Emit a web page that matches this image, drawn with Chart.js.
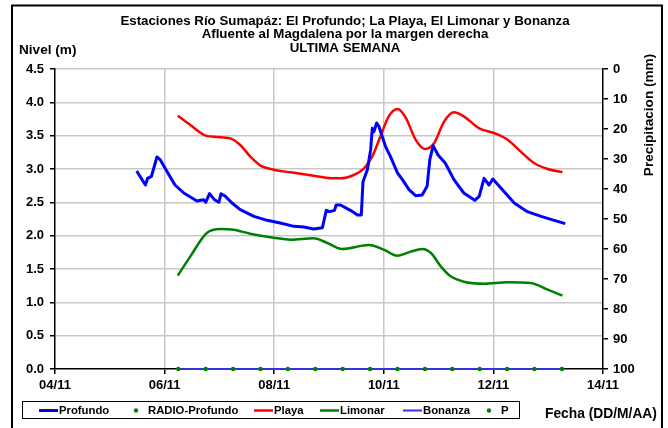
<!DOCTYPE html>
<html>
<head>
<meta charset="utf-8">
<script src="https://cdn.jsdelivr.net/npm/chart.js@4"></script>
<style>
  html, body { margin: 0; padding: 0; background: #fff; }
  #wrap { width: 668px; height: 428px; }
</style>
</head>
<body>
<div id="wrap"><canvas id="chart" width="668" height="428"></canvas></div>
<script>
// time axis in days since 04/11 00:00
const xTickLabels = ['04/11', '06/11', '08/11', '10/11', '12/11', '14/11'];

const profundoDays = [1.49, 1.65, 1.69, 1.76, 1.86, 1.92, 2.06, 2.19, 2.35, 2.59, 2.71, 2.75, 2.82, 2.91, 2.99, 3.03, 3.11, 3.23, 3.38, 3.63, 3.87, 4.11, 4.36, 4.54, 4.72, 4.88, 4.95, 5.01, 5.10, 5.13, 5.21, 5.39, 5.52, 5.59, 5.62, 5.70, 5.76, 5.79, 5.82, 5.87, 5.91, 6.03, 6.12, 6.25, 6.34, 6.46, 6.58, 6.70, 6.79, 6.84, 6.90, 6.99, 7.12, 7.28, 7.46, 7.66, 7.74, 7.83, 7.92, 7.99, 8.14, 8.38, 8.62, 8.87, 9.11, 9.31];
const profundoNivel = [2.97, 2.76, 2.86, 2.89, 3.18, 3.14, 2.94, 2.76, 2.64, 2.52, 2.54, 2.50, 2.63, 2.54, 2.50, 2.63, 2.59, 2.49, 2.39, 2.29, 2.23, 2.19, 2.14, 2.13, 2.10, 2.12, 2.38, 2.36, 2.38, 2.46, 2.46, 2.38, 2.31, 2.31, 2.81, 2.99, 3.29, 3.61, 3.56, 3.69, 3.64, 3.34, 3.19, 2.94, 2.84, 2.69, 2.60, 2.61, 2.74, 3.14, 3.35, 3.21, 3.09, 2.84, 2.64, 2.53, 2.59, 2.86, 2.76, 2.85, 2.71, 2.49, 2.36, 2.29, 2.23, 2.18];

const playaDays = [2.24, 2.47, 2.75, 2.96, 3.20, 3.38, 3.56, 3.75, 3.99, 4.30, 4.72, 5.09, 5.21, 5.45, 5.64, 5.79, 5.94, 6.09, 6.25, 6.40, 6.58, 6.75, 6.92, 7.10, 7.28, 7.46, 7.74, 8.01, 8.26, 8.50, 8.74, 8.99, 9.26];
const playaNivel = [3.80, 3.66, 3.50, 3.48, 3.46, 3.36, 3.19, 3.05, 2.99, 2.95, 2.90, 2.86, 2.86, 2.91, 3.01, 3.19, 3.49, 3.79, 3.90, 3.77, 3.44, 3.30, 3.39, 3.71, 3.85, 3.79, 3.61, 3.54, 3.44, 3.26, 3.09, 3.00, 2.95];

const limonarDays = [2.24, 2.47, 2.77, 3.02, 3.26, 3.56, 3.99, 4.30, 4.72, 4.97, 5.24, 5.73, 6.00, 6.25, 6.49, 6.70, 6.86, 7.04, 7.22, 7.46, 7.83, 8.26, 8.68, 8.99, 9.26];
const limonarNivel = [1.40, 1.69, 2.04, 2.10, 2.09, 2.03, 1.97, 1.94, 1.96, 1.89, 1.80, 1.86, 1.79, 1.70, 1.76, 1.80, 1.74, 1.54, 1.39, 1.31, 1.28, 1.30, 1.29, 1.19, 1.10];

const bonanzaDays = [2.25, 9.25];
const bonanzaNivel = [0, 0];

const radioDays = [2.25, 2.75, 3.25, 3.75, 4.25, 4.75, 5.25, 5.75, 6.25, 6.75, 7.25, 7.75, 8.25, 8.75, 9.25];
const radioNivel = [0, 0, 0, 0, 0, 0, 0, 0, 0, 0, 0, 0, 0, 0, 0];

const titleLines = [
  'Estaciones Río Sumapáz: El Profundo; La Playa, El Limonar y Bonanza',
  'Afluente al Magdalena por la margen derecha',
  'ULTIMA SEMANA'
];

function pts(xs, ys) {
  return xs.map((x, i) => ({ x: x, y: ys[i] }));
}

const FONT = 'Liberation Sans, Arial, sans-serif';

const decor = {
  id: 'decor',
  afterDraw(chart) {
    const c = chart.ctx;
    c.save();
    // outer frame
    c.strokeStyle = '#000';
    c.lineWidth = 2;
    c.strokeRect(12, 5.5, 650, 440);

    c.fillStyle = '#000';
    c.font = 'bold 13.3px ' + FONT;
    c.textAlign = 'center';
    c.textBaseline = 'middle';
    c.fillText(titleLines[0], 345, 21);
    c.fillText(titleLines[1], 345, 34.5);
    c.fillText(titleLines[2], 345, 48.5);

    c.font = 'bold 13.6px ' + FONT;
    c.textAlign = 'left';
    c.fillText('Nivel (m)', 19, 50);

    c.save();
    c.translate(649, 115);
    c.rotate(-Math.PI / 2);
    c.textAlign = 'center';
    c.fillText('Precipitacion (mm)', 0, 0);
    c.restore();

    c.font = 'bold 13.8px ' + FONT;
    c.textAlign = 'left';
    c.fillText('Fecha (DD/M/AA)', 545, 414);

    // legend box
    c.lineWidth = 1;
    c.strokeStyle = '#000';
    c.strokeRect(22.5, 401.5, 497, 17);
    c.font = 'bold 11.3px ' + FONT;
    const items = [
      { ds: 0, x: 39 },
      { ds: 5, x: 136 },
      { ds: 1, x: 254 },
      { ds: 2, x: 320 },
      { ds: 3, x: 403 },
      { ds: 4, x: 489 }
    ];
    const ly = 410.5;
    items.forEach(it => {
      const d = chart.data.datasets[it.ds];
      if (d.showLine === false) {
        c.fillStyle = d.pointBackgroundColor;
        c.beginPath();
        c.arc(it.x, ly, 2.2, 0, Math.PI * 2);
        c.fill();
        c.fillStyle = '#000';
        c.fillText(d.label, it.x + 12, ly);
      } else {
        c.strokeStyle = d.borderColor;
        c.lineWidth = d.borderWidth;
        c.beginPath();
        c.moveTo(it.x, ly);
        c.lineTo(it.x + 19, ly);
        c.stroke();
        c.fillStyle = '#000';
        c.fillText(d.label, it.x + 20, ly);
      }
    });
    c.restore();
  }
};

new Chart(document.getElementById('chart'), {
  type: 'line',
  data: {
    datasets: [
      {
        label: 'Profundo',
        data: pts(profundoDays, profundoNivel),
        borderColor: '#0000ff',
        borderWidth: 3,
        borderJoinStyle: 'round',
        pointRadius: 0,
        tension: 0,
        yAxisID: 'y',
        order: 2
      },
      {
        label: 'Playa',
        data: pts(playaDays, playaNivel),
        borderColor: '#ff0000',
        borderWidth: 2.5,
        pointRadius: 0,
        cubicInterpolationMode: 'monotone',
        yAxisID: 'y',
        order: 3
      },
      {
        label: 'Limonar',
        data: pts(limonarDays, limonarNivel),
        borderColor: '#008000',
        borderWidth: 2.5,
        pointRadius: 0,
        cubicInterpolationMode: 'monotone',
        yAxisID: 'y',
        order: 4
      },
      {
        label: 'Bonanza',
        data: pts(bonanzaDays, bonanzaNivel),
        borderColor: '#3333dd',
        borderWidth: 2,
        pointRadius: 0,
        yAxisID: 'y',
        order: 5
      },
      {
        label: 'P',
        data: [],
        showLine: false,
        pointRadius: 2,
        pointBackgroundColor: '#008000',
        pointBorderWidth: 0,
        yAxisID: 'y2',
        order: 1
      },
      {
        label: 'RADIO-Profundo',
        data: pts(radioDays, radioNivel),
        showLine: false,
        pointRadius: 2.2,
        pointBackgroundColor: '#008000',
        pointBorderWidth: 0,
        borderColor: '#008000',
        yAxisID: 'y',
        order: 0
      }
    ]
  },
  options: {
    responsive: false,
    animation: false,
    clip: false,
    layout: { padding: { left: 0, right: 0, top: 69, bottom: 0 } },
    plugins: {
      legend: { display: false },
      title: { display: false },
      tooltip: { enabled: false }
    },
    scales: {
      x: {
        type: 'linear',
        min: 0,
        max: 10,
        afterFit: s => { s.height = 59; },
        afterBuildTicks: s => {
          s.ticks = xTickLabels.map((t, i) => ({ value: i * 2 }));
        },
        ticks: {
          autoSkip: false,
          maxRotation: 0,
          padding: 4,
          color: '#000',
          font: { family: FONT, size: 13, weight: 'bold' },
          callback: (v) => xTickLabels[Math.round(v / 2)]
        },
        grid: {
          color: (ctx) => (ctx.tick && (ctx.tick.value === 0 || ctx.tick.value === 10)) ? 'rgba(0,0,0,0)' : '#c8c8c8',
          tickColor: '#000',
          tickLength: 5,
          lineWidth: 1.5
        },
        border: { color: '#000', width: 1.5 }
      },
      y: {
        position: 'left',
        min: 0,
        max: 4.5,
        afterFit: s => { s.width = 55; },
        ticks: {
          stepSize: 0.5,
          padding: 6,
          color: '#000',
          font: { family: FONT, size: 13, weight: 'bold' },
          callback: (v) => Number(v).toFixed(1)
        },
        grid: {
          color: (ctx) => (ctx.tick && ctx.tick.value === 0) ? 'rgba(0,0,0,0)' : '#c8c8c8',
          tickColor: '#000',
          tickLength: 5,
          lineWidth: 1.5
        },
        border: { color: '#000', width: 1.5 }
      },
      y2: {
        position: 'right',
        reverse: true,
        min: 0,
        max: 100,
        afterFit: s => { s.width = 65; },
        ticks: {
          stepSize: 10,
          padding: 5,
          color: '#000',
          font: { family: FONT, size: 13, weight: 'bold' }
        },
        grid: {
          drawOnChartArea: false,
          tickColor: '#000',
          tickLength: 5,
          lineWidth: 1.5
        },
        border: { color: '#000', width: 1.5 }
      }
    }
  },
  plugins: [decor]
});
</script>
</body>
</html>
